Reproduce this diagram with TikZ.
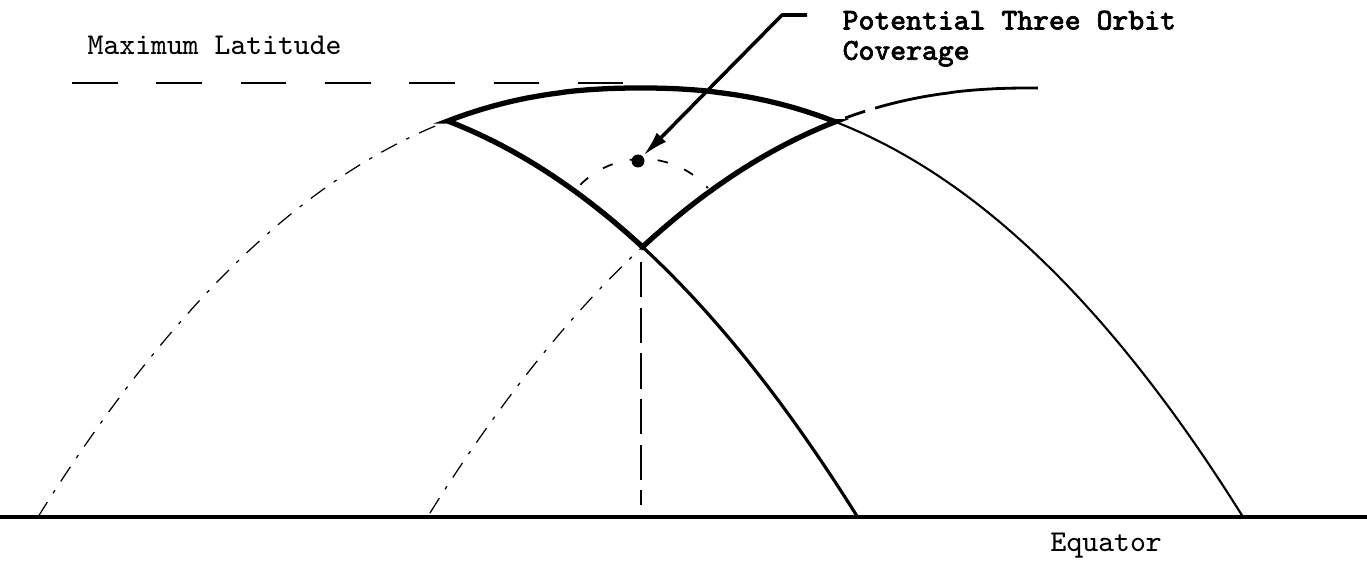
\documentclass[tikz,border=0pt]{standalone}
\usepackage{fontspec}
\newfontfamily\covfont[FakeBold=2.2]{Latin Modern Mono}
\usepackage{xcolor}
\usepackage{tikz}
\usetikzlibrary{arrows.meta, positioning, calc}
\tikzset{
  trackbold/.style={line width=1.5pt, line join=miter},
  trackline/.style={line width=0.9pt},
  tracklight/.style={line width=0.6pt},
  trackfaint/.style={line width=0.35pt, dash pattern=on 5pt off 3pt on 1pt off 3pt},
  trackdash/.style={line width=0.8pt, dash pattern=on 0pt off 3pt on 6pt off 3pt on 120pt},
  maxlat/.style={line width=0.6pt, dash pattern=on 13pt off 11pt},
  equatorline/.style={line width=1.1pt},
  caption/.style={font=\fontsize{8.6}{8.6}\selectfont\ttfamily, inner sep=0pt, align=left},
  leader/.style={line width=1pt, line join=round, -{Latex[length=2.6mm, width=1.3mm]}},
  declare function={trk(\x,\p)=0.54+4.29*(1-pow(max(abs((\x-\p)/6.025),0.0001),2.25));}
}

\begin{document}
\begin{tikzpicture}[
  vertline/.style={line width=0.35pt, dash pattern=on 10pt off 3pt},
  angleline/.style={line width=0.5pt, dash pattern=on 3pt off 5pt},
  spot/.style={circle, fill=black, inner sep=0pt, minimum size=0.13cm}
]
\useasboundingbox (0,0) rectangle (13.67,5.71);

% Crossing points of the three tracks
\coordinate (cXZ) at (4.4775,{trk(4.4775,6.405)});
\coordinate (cXY) at (8.3525,{trk(8.3525,6.405)});
\coordinate (cYZ) at (6.425,{trk(6.425,2.55)});

% Equator and maximum latitude
\draw[equatorline] (0,0.54) -- (13.67,0.54);
\draw[maxlat] (0.72,4.88) -- (6.23,4.88);

% Track X (middle orbit)
\draw[trackfaint] plot[domain=0.38:4.4775, samples=60] (\x,{trk(\x,6.405)});
\draw[tracklight] plot[domain=8.3525:12.43, samples=60] (\x,{trk(\x,6.405)});

% Track Y (next orbit, east)
\draw[trackfaint] plot[domain=4.3:6.425, samples=40] (\x,{trk(\x,10.30)});
\draw[trackdash] plot[domain=8.3525:10.38, samples=40] (\x,{trk(\x,10.30)});

% Track Z (previous orbit, west)
\draw[trackline] plot[domain=6.425:8.575, samples=50] (\x,{trk(\x,2.55)});

% Three orbit region
\draw[trackbold] plot[domain=4.4775:8.3525, samples=60] (\x,{trk(\x,6.405)})
  -- plot[domain=8.3525:6.425, samples=40] (\x,{trk(\x,10.30)})
  -- plot[domain=6.425:4.4775, samples=40] (\x,{trk(\x,2.55)}) -- cycle;

\draw[vertline] (6.41,3.09) -- (6.41,0.66);
\draw[angleline] ($(cYZ)+(135:0.88)$) arc[start angle=135, end angle=42, radius=0.88];

% Labels
\node[caption, anchor=base west] (maxlab) at (0.87,5.16) {Maximum Latitude};
\node[caption, anchor=base west] (eqlab) at (10.50,0.19) {Equator};
\node[caption, font=\fontsize{8.6}{8.6}\selectfont\covfont, anchor=north west] (covlab) at (8.42,5.61) {Potential Three Orbit\\Coverage};

\node[spot] (dot) at (6.38,4.10) {};
\coordinate (bend) at (7.82,5.56);
\coordinate (tick) at (8.07,5.56);
\draw[leader] (tick) -- (bend) -- (dot);

\end{tikzpicture}
\end{document}
